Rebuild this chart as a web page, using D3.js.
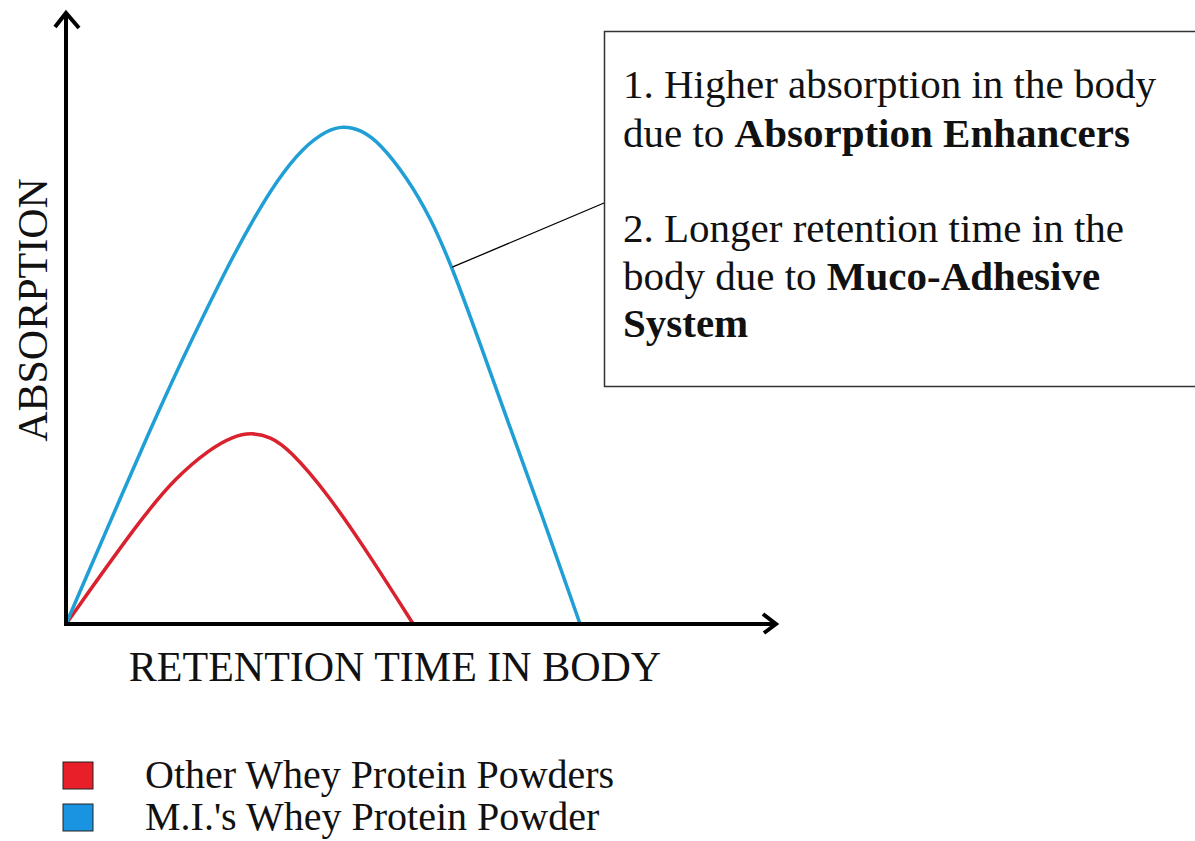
<!DOCTYPE html>
<html>
<head>
<meta charset="utf-8">
<script src="https://cdn.jsdelivr.net/npm/d3@7"></script>
<style>
	body { margin: 0; background: #fff; }
	text { font-family: "Liberation Serif", "Times New Roman", serif; fill: #111; }
</style>
</head>
<body>
<div id="main"></div>
<script>
// curve samples (x = retention time, y = absorption, both 0-100)
const blueX = [0, 13.2, 17.9, 22.7, 26.3, 29.7, 33.4, 36.8, 39.0, 41.5, 44.2, 48.0, 51.3, 54.4, 58.3, 62.5, 66.8, 72.4];
const blueY = [0, 35.5, 46.9, 58.3, 66.0, 72.5, 77.9, 80.7, 81.4, 80.8, 78.6, 73.0, 66.5, 58.3, 45.9, 32.2, 18.6, 0];
const redX = [0, 10.4, 15.5, 20.3, 23.4, 26.1, 28.8, 31.4, 36.8, 43.0, 48.9];
const redY = [0, 17.0, 24.0, 28.6, 30.6, 31.3, 30.6, 28.6, 21.4, 10.8, 0];

const seriesNames = ["Other Whey Protein Powders", "M.I.'s Whey Protein Powder"];
const seriesColors = ["#d9222e", "#1f9fd5"];
const legendColors = ["#e81e28", "#1a94e0"];

const xLabel = "RETENTION TIME IN BODY";
const yLabel = "ABSORPTION";
const noteLines = [
	[["1. Higher absorption in the body", false]],
	[["due to ", false], ["Absorption Enhancers", true]],
	[["2. Longer retention time in the", false]],
	[["body due to ", false], ["Muco-Adhesive", true]],
	[["System", true]]
];
// point on the blue curve that the note points at
const notePoint = [54.4, 58.3];

let width = 1195, height = 841;
let origin = {x: 66, y: 624};

let x = d3.scaleLinear()
	.domain([0, 100])
	.range([origin.x, 776]);

let y = d3.scaleLinear()
	.domain([0, 100])
	.range([origin.y, 12]);

let svg = d3.select("#main")
	.append("svg")
		.attr("width", width)
		.attr("height", height);

const zip = (xs, ys) => xs.map((d, i) => [d, ys[i]]);

let line = d3.line()
	.x(d => x(d[0]))
	.y(d => y(d[1]))
	.curve(d3.curveBasis);

// curves
svg.append("path")
	.attr("d", line(zip(redX, redY)))
	.attr("fill", "none")
	.attr("stroke", seriesColors[0])
	.attr("stroke-width", 3.5);

svg.append("path")
	.attr("d", line(zip(blueX, blueY)))
	.attr("fill", "none")
	.attr("stroke", seriesColors[1])
	.attr("stroke-width", 3.5);

// axes with open arrow heads
let axes = svg.append("g")
	.attr("stroke", "#000")
	.attr("fill", "none")
	.attr("stroke-width", 4);

axes.append("line")
	.attr("x1", x(0)).attr("y1", y(0))
	.attr("x2", x(0)).attr("y2", y(100) + 1);
axes.append("path")
	.attr("stroke-linejoin", "miter")
	.attr("d", `M${x(0) - 11},${y(100) + 15} L${x(0)},${y(100) + 1} L${x(0) + 13},${y(100) + 16}`);

axes.append("line")
	.attr("x1", x(0) - 2).attr("y1", y(0))
	.attr("x2", x(100)).attr("y2", y(0));
axes.append("path")
	.attr("stroke-linejoin", "miter")
	.attr("d", `M${x(100) - 13},${y(0) - 10} L${x(100)},${y(0)} L${x(100) - 12},${y(0) + 9}`);

// axis titles
svg.append("text")
	.attr("x", 395)
	.attr("y", 681)
	.attr("text-anchor", "middle")
	.style("font-size", "42px")
	.text(xLabel);

svg.append("text")
	.attr("transform", "translate(47, 310) rotate(-90)")
	.attr("text-anchor", "middle")
	.style("font-size", "42px")
	.text(yLabel);

// note box
svg.append("rect")
	.attr("x", 604.5)
	.attr("y", 31.5)
	.attr("width", 620)
	.attr("height", 355)
	.attr("fill", "#fff")
	.attr("stroke", "#333")
	.attr("stroke-width", 1.5);

svg.append("line")
	.attr("x1", x(notePoint[0])).attr("y1", y(notePoint[1]))
	.attr("x2", 604).attr("y2", 203)
	.attr("stroke", "#000")
	.attr("stroke-width", 1.3);

const noteBaselines = [98, 147, 242, 290, 337];
svg.append("g")
	.selectAll("text")
	.data(noteLines)
	.enter()
	.append("text")
		.attr("x", 623)
		.attr("y", (d, i) => noteBaselines[i])
		.style("font-size", "41px")
		.each(function(d) {
			d3.select(this)
				.selectAll("tspan")
				.data(d)
				.enter()
				.append("tspan")
					.style("font-weight", p => p[1] ? "bold" : "normal")
					.text(p => p[0]);
		});

// legend
let legend = svg.append("g")
	.selectAll("g")
	.data(seriesNames)
	.enter()
	.append("g")
		.attr("transform", (d, i) => `translate(0, ${i * 42})`);

legend.append("rect")
	.attr("x", 63)
	.attr("y", 762)
	.attr("width", 30)
	.attr("height", 27)
	.attr("fill", (d, i) => legendColors[i])
	.attr("stroke", "#222")
	.attr("stroke-width", 1);

legend.append("text")
	.attr("x", 145)
	.attr("y", 788)
	.style("font-size", "40px")
	.text(d => d);
</script>
</body>
</html>
